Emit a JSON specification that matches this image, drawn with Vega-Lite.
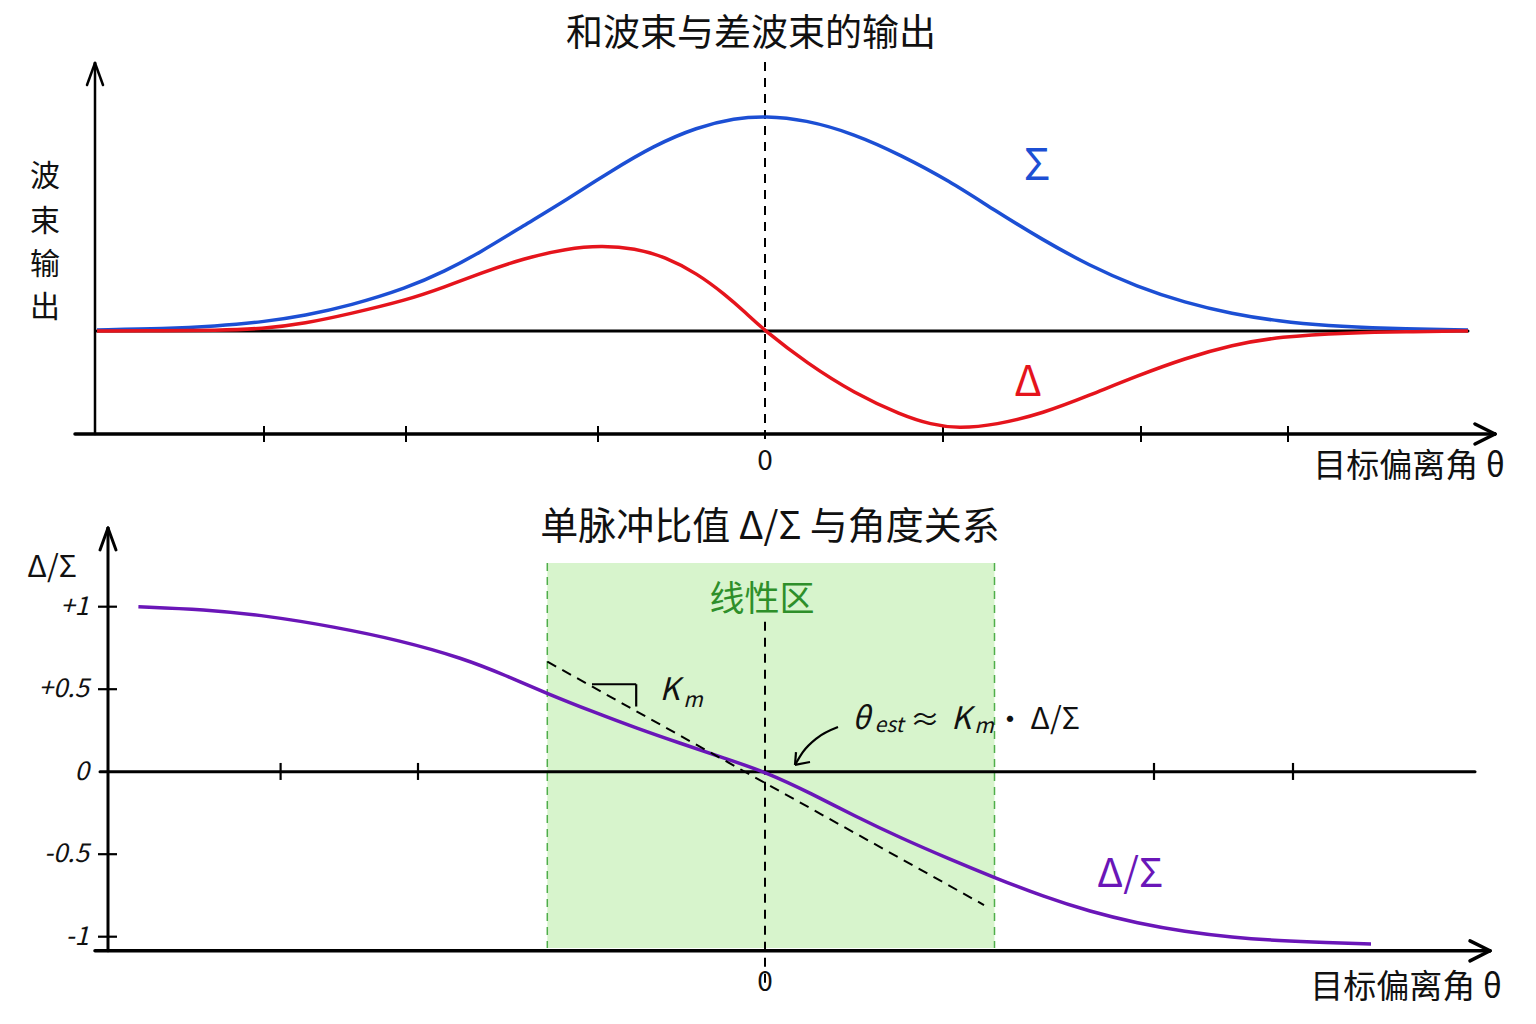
{
  "$schema": "https://vega.github.io/schema/vega-lite/v6.json",
  "padding": 0,
  "spacing": 0,
  "background": "white",
  "config": {"view": {"stroke": null}, "text": {"font": "Noto Sans CJK SC"}},
  "datasets": {
    "sum": [
      {"x": -3.34, "y": 0.005}, {"x": -3.0, "y": 0.01}, {"x": -2.75, "y": 0.022}, {"x": -2.51, "y": 0.042},
      {"x": -2.3, "y": 0.072}, {"x": -2.075, "y": 0.118}, {"x": -1.79, "y": 0.2}, {"x": -1.6, "y": 0.278},
      {"x": -1.425, "y": 0.365}, {"x": -1.207, "y": 0.49}, {"x": -0.99, "y": 0.612}, {"x": -0.775, "y": 0.741},
      {"x": -0.556, "y": 0.862}, {"x": -0.34, "y": 0.948}, {"x": -0.15, "y": 0.99}, {"x": 0, "y": 1.0},
      {"x": 0.2, "y": 0.983}, {"x": 0.447, "y": 0.917}, {"x": 0.68, "y": 0.818}, {"x": 0.919, "y": 0.7},
      {"x": 1.15, "y": 0.56}, {"x": 1.39, "y": 0.423}, {"x": 1.62, "y": 0.305}, {"x": 1.86, "y": 0.206},
      {"x": 2.1, "y": 0.132}, {"x": 2.335, "y": 0.08}, {"x": 2.57, "y": 0.045}, {"x": 2.81, "y": 0.024},
      {"x": 3.1, "y": 0.012}, {"x": 3.515, "y": 0.005}
    ],
    "diff": [
      {"x": -3.34, "y": 0.0}, {"x": -3.0, "y": 0.001}, {"x": -2.75, "y": 0.003}, {"x": -2.51, "y": 0.01},
      {"x": -2.3, "y": 0.035}, {"x": -2.075, "y": 0.08}, {"x": -1.79, "y": 0.144}, {"x": -1.6, "y": 0.205},
      {"x": -1.425, "y": 0.268}, {"x": -1.207, "y": 0.338}, {"x": -0.99, "y": 0.383}, {"x": -0.82, "y": 0.397},
      {"x": -0.65, "y": 0.385}, {"x": -0.5, "y": 0.345}, {"x": -0.34, "y": 0.268}, {"x": -0.2, "y": 0.17},
      {"x": -0.1, "y": 0.088}, {"x": 0, "y": 0.0}, {"x": 0.21, "y": -0.15}, {"x": 0.447, "y": -0.29},
      {"x": 0.683, "y": -0.391}, {"x": 0.83, "y": -0.435}, {"x": 0.965, "y": -0.453}, {"x": 1.155, "y": -0.437},
      {"x": 1.39, "y": -0.383}, {"x": 1.625, "y": -0.298}, {"x": 1.86, "y": -0.209}, {"x": 2.1, "y": -0.127},
      {"x": 2.335, "y": -0.065}, {"x": 2.57, "y": -0.026}, {"x": 2.925, "y": -0.008}, {"x": 3.2, "y": -0.003},
      {"x": 3.515, "y": 0.0}
    ],
    "ratio": [
      {"x": -3.133, "y": 1.0}, {"x": -2.808, "y": 0.984}, {"x": -2.483, "y": 0.944}, {"x": -2.158, "y": 0.879},
      {"x": -1.832, "y": 0.798}, {"x": -1.507, "y": 0.687}, {"x": -1.29, "y": 0.58}, {"x": -1.088, "y": 0.473},
      {"x": -0.857, "y": 0.362}, {"x": -0.64, "y": 0.263}, {"x": -0.423, "y": 0.172}, {"x": -0.206, "y": 0.083},
      {"x": 0, "y": 0.0}, {"x": 0.236, "y": -0.135}, {"x": 0.447, "y": -0.268}, {"x": 0.683, "y": -0.404},
      {"x": 0.919, "y": -0.528}, {"x": 1.155, "y": -0.646}, {"x": 1.39, "y": -0.756}, {"x": 1.625, "y": -0.848},
      {"x": 1.863, "y": -0.919}, {"x": 2.1, "y": -0.97}, {"x": 2.335, "y": -1.004}, {"x": 2.57, "y": -1.024},
      {"x": 2.805, "y": -1.036}, {"x": 3.03, "y": -1.044}
    ]
  },
  "vconcat": [
    {
      "width": 1536,
      "height": 490,
      "encoding": {
        "x": {"field": "x", "type": "quantitative", "axis": null, "scale": {"domain": [-3.825, 3.855], "nice": false, "zero": false}},
        "y": {"field": "y", "type": "quantitative", "axis": null, "scale": {"domain": [-0.7395, 1.5395], "nice": false, "zero": false}}
      },
      "layer": [
        {
          "data": {"values": [
            {"x": -3.35, "y": 1.2465, "x2": -3.35, "y2": -0.479},
            {"x": -3.39, "y": 1.144, "x2": -3.35, "y2": 1.2465},
            {"x": -3.31, "y": 1.144, "x2": -3.35, "y2": 1.2465}
          ]},
          "mark": {"type": "rule", "color": "black", "strokeWidth": 2.5, "strokeCap": "round"},
          "encoding": {"x2": {"field": "x2"}, "y2": {"field": "y2"}}
        },
        {
          "data": {"values": [
            {"x": -3.34, "y": 0, "x2": 3.515, "y2": 0}
          ]},
          "mark": {"type": "rule", "color": "black", "strokeWidth": 3, "strokeCap": "round"},
          "encoding": {"x2": {"field": "x2"}, "y2": {"field": "y2"}}
        },
        {
          "data": {"values": [
            {"x": -3.45, "y": -0.479, "x2": 3.65, "y2": -0.479},
            {"x": 3.55, "y": -0.4326, "x2": 3.65, "y2": -0.479},
            {"x": 3.55, "y": -0.5256, "x2": 3.65, "y2": -0.479}
          ]},
          "mark": {"type": "rule", "color": "black", "strokeWidth": 3.5, "strokeCap": "round"},
          "encoding": {"x2": {"field": "x2"}, "y2": {"field": "y2"}}
        },
        {
          "data": {"values": [
            {"x": -2.505, "y": -0.442, "x2": -2.505, "y2": -0.516},
            {"x": -1.795, "y": -0.442, "x2": -1.795, "y2": -0.516},
            {"x": -0.835, "y": -0.442, "x2": -0.835, "y2": -0.516},
            {"x": 0.89, "y": -0.442, "x2": 0.89, "y2": -0.516},
            {"x": 1.88, "y": -0.442, "x2": 1.88, "y2": -0.516},
            {"x": 2.615, "y": -0.442, "x2": 2.615, "y2": -0.516}
          ]},
          "mark": {"type": "rule", "color": "black", "strokeWidth": 2},
          "encoding": {"x2": {"field": "x2"}, "y2": {"field": "y2"}}
        },
        {
          "data": {"values": [{"x": 0, "y": 1.251, "x2": 0, "y2": -0.516}]},
          "mark": {"type": "rule", "color": "black", "strokeWidth": 2, "strokeDash": [9, 7]},
          "encoding": {"x2": {"field": "x2"}, "y2": {"field": "y2"}}
        },
        {
          "data": {"name": "sum"},
          "mark": {"type": "line", "color": "#1c4fd4", "strokeWidth": 3.5, "interpolate": "basis"}
        },
        {
          "data": {"name": "diff"},
          "mark": {"type": "line", "color": "#e5141c", "strokeWidth": 3.5, "interpolate": "basis"}
        },
        {
          "data": {"values": [{"x": -0.07, "y": 1.377, "t": "和波束与差波束的输出"}]},
          "mark": {"type": "text", "fontSize": 37, "color": "#111", "align": "center", "baseline": "middle"},
          "encoding": {"text": {"field": "t"}}
        },
        {
          "data": {"values": [
            {"x": -3.6, "y": 0.716, "t": "波"},
            {"x": -3.6, "y": 0.507, "t": "束"},
            {"x": -3.6, "y": 0.307, "t": "输"},
            {"x": -3.6, "y": 0.107, "t": "出"}
          ]},
          "mark": {"type": "text", "fontSize": 30, "color": "#111", "align": "center", "baseline": "middle"},
          "encoding": {"text": {"field": "t"}}
        },
        {
          "data": {"values": [{"x": 0, "y": -0.609, "t": "0"}]},
          "mark": {"type": "text", "fontSize": 28, "color": "#111", "align": "center", "baseline": "middle"},
          "encoding": {"text": {"field": "t"}}
        },
        {
          "data": {"values": [{"x": 3.7, "y": -0.633, "t": "目标偏离角 θ"}]},
          "mark": {"type": "text", "fontSize": 33, "color": "#111", "align": "right", "baseline": "middle"},
          "encoding": {"text": {"field": "t"}}
        },
        {
          "data": {"values": [{"x": 1.36, "y": 0.763, "t": "Σ"}]},
          "mark": {"type": "text", "fontSize": 44, "color": "#1c4fd4", "align": "center", "baseline": "middle"},
          "encoding": {"text": {"field": "t"}}
        },
        {
          "data": {"values": [{"x": 1.315, "y": -0.242, "t": "Δ"}]},
          "mark": {"type": "text", "fontSize": 42, "color": "#e5141c", "align": "center", "baseline": "middle"},
          "encoding": {"text": {"field": "t"}}
        }
      ]
    },
    {
      "width": 1536,
      "height": 534,
      "encoding": {
        "x": {"field": "x", "type": "quantitative", "axis": null, "scale": {"domain": [-3.825, 3.855], "nice": false, "zero": false}},
        "y": {"field": "y", "type": "quantitative", "axis": null, "scale": {"domain": [-1.52909, 1.70727], "nice": false, "zero": false}}
      },
      "layer": [
        {
          "data": {"values": [{"x": -1.0885, "x2": 1.1475, "y": 1.265, "y2": -1.069}]},
          "mark": {"type": "rect", "color": "#d3f3c6", "opacity": 0.9},
          "encoding": {"x2": {"field": "x2"}, "y2": {"field": "y2"}}
        },
        {
          "data": {"values": [
            {"x": -1.0885, "y": 1.265, "x2": -1.0885, "y2": -1.069},
            {"x": 1.1475, "y": 1.265, "x2": 1.1475, "y2": -1.069}
          ]},
          "mark": {"type": "rule", "color": "#4fae4a", "strokeWidth": 1.5, "strokeDash": [8, 6]},
          "encoding": {"x2": {"field": "x2"}, "y2": {"field": "y2"}}
        },
        {
          "data": {"values": [{"x": 0, "y": 0.909, "x2": 0, "y2": -1.293}]},
          "mark": {"type": "rule", "color": "black", "strokeWidth": 2, "strokeDash": [9, 7]},
          "encoding": {"x2": {"field": "x2"}, "y2": {"field": "y2"}}
        },
        {
          "data": {"values": [
            {"x": -3.285, "y": 1.477, "x2": -3.285, "y2": -1.085},
            {"x": -3.325, "y": 1.344, "x2": -3.285, "y2": 1.477},
            {"x": -3.245, "y": 1.344, "x2": -3.285, "y2": 1.477},
            {"x": -3.325, "y": 0, "x2": 3.55, "y2": 0}
          ]},
          "mark": {"type": "rule", "color": "black", "strokeWidth": 3, "strokeCap": "round"},
          "encoding": {"x2": {"field": "x2"}, "y2": {"field": "y2"}}
        },
        {
          "data": {"values": [
            {"x": -3.35, "y": -1.085, "x2": 3.625, "y2": -1.085},
            {"x": 3.525, "y": -1.0255, "x2": 3.625, "y2": -1.085},
            {"x": 3.525, "y": -1.1467, "x2": 3.625, "y2": -1.085}
          ]},
          "mark": {"type": "rule", "color": "black", "strokeWidth": 3.5, "strokeCap": "round"},
          "encoding": {"x2": {"field": "x2"}, "y2": {"field": "y2"}}
        },
        {
          "data": {"values": [
            {"x": -3.335, "y": 1, "x2": -3.24, "y2": 1},
            {"x": -3.335, "y": 0.5, "x2": -3.24, "y2": 0.5},
            {"x": -3.335, "y": -0.5, "x2": -3.24, "y2": -0.5},
            {"x": -3.335, "y": -1, "x2": -3.24, "y2": -1},
            {"x": -2.422, "y": 0.053, "x2": -2.422, "y2": -0.05},
            {"x": -1.735, "y": 0.053, "x2": -1.735, "y2": -0.05},
            {"x": 1.945, "y": 0.053, "x2": 1.945, "y2": -0.05},
            {"x": 2.64, "y": 0.053, "x2": 2.64, "y2": -0.05},
            {"x": -0.865, "y": 0.53, "x2": -0.644, "y2": 0.53},
            {"x": -0.644, "y": 0.53, "x2": -0.644, "y2": 0.395},
            {"x": 0.155, "y": 0.119, "x2": 0.15, "y2": 0.041},
            {"x": 0.225, "y": 0.059, "x2": 0.15, "y2": 0.041}
          ]},
          "mark": {"type": "rule", "color": "black", "strokeWidth": 2.2},
          "encoding": {"x2": {"field": "x2"}, "y2": {"field": "y2"}}
        },
        {
          "data": {"values": [{"x": 0.365, "y": 0.271}, {"x": 0.26, "y": 0.204}, {"x": 0.19, "y": 0.12}, {"x": 0.15, "y": 0.041}]},
          "mark": {"type": "line", "color": "black", "strokeWidth": 2.2, "interpolate": "monotone"}
        },
        {
          "data": {"name": "ratio"},
          "mark": {"type": "line", "color": "#6a16b8", "strokeWidth": 3.5, "interpolate": "basis"}
        },
        {
          "data": {"values": [{"x": -1.088, "y": 0.667, "x2": 1.095, "y2": -0.808}]},
          "mark": {"type": "rule", "color": "black", "strokeWidth": 2, "strokeDash": [10, 7]},
          "encoding": {"x2": {"field": "x2"}, "y2": {"field": "y2"}}
        },
        {
          "data": {"values": [{"x": 0.025, "y": 1.477, "t": "单脉冲比值 Δ/Σ 与角度关系"}]},
          "mark": {"type": "text", "fontSize": 38, "color": "#111", "align": "center", "baseline": "middle"},
          "encoding": {"text": {"field": "t"}}
        },
        {
          "data": {"values": [{"x": -3.565, "y": 1.235, "t": "Δ/Σ"}]},
          "mark": {"type": "text", "fontSize": 30, "color": "#111", "align": "center", "baseline": "middle"},
          "encoding": {"text": {"field": "t"}}
        },
        {
          "data": {"values": [
            {"x": -3.38, "y": 1, "t": "+1"},
            {"x": -3.38, "y": 0.5, "t": "+0.5"},
            {"x": -3.38, "y": 0, "t": "0"},
            {"x": -3.38, "y": -0.5, "t": "-0.5"},
            {"x": -3.38, "y": -1, "t": "-1"}
          ]},
          "mark": {"type": "text", "fontSize": 26, "fontStyle": "italic", "color": "#111", "align": "right", "baseline": "middle"},
          "encoding": {"text": {"field": "t"}}
        },
        {
          "data": {"values": [{"x": -0.015, "y": 1.04, "t": "线性区"}]},
          "mark": {"type": "text", "fontSize": 35, "color": "#2e8f2a", "align": "center", "baseline": "middle"},
          "encoding": {"text": {"field": "t"}}
        },
        {
          "data": {"values": [
            {"x": -0.4775, "y": 0.489, "t": "K"},
            {"x": 0.48, "y": 0.313, "t": "θ"},
            {"x": 0.98, "y": 0.313, "t": "K"}
          ]},
          "mark": {"type": "text", "fontSize": 31, "fontStyle": "italic", "color": "#111", "align": "center", "baseline": "middle"},
          "encoding": {"text": {"field": "t"}}
        },
        {
          "data": {"values": [
            {"x": -0.36, "y": 0.431, "t": "m"},
            {"x": 0.62, "y": 0.277, "t": "est"},
            {"x": 1.095, "y": 0.271, "t": "m"}
          ]},
          "mark": {"type": "text", "fontSize": 21, "fontStyle": "italic", "color": "#111", "align": "center", "baseline": "middle"},
          "encoding": {"text": {"field": "t"}}
        },
        {
          "data": {"values": [
            {"x": 0.8, "y": 0.307, "t": "≈"},
            {"x": 1.225, "y": 0.307, "t": "·"},
            {"x": 1.45, "y": 0.313, "t": "Δ/Σ"}
          ]},
          "mark": {"type": "text", "fontSize": 30, "color": "#111", "align": "center", "baseline": "middle"},
          "encoding": {"text": {"field": "t"}}
        },
        {
          "data": {"values": [{"x": 1.825, "y": -0.626, "t": "Δ/Σ"}]},
          "mark": {"type": "text", "fontSize": 40, "color": "#6a16b8", "align": "center", "baseline": "middle"},
          "encoding": {"text": {"field": "t"}}
        },
        {
          "data": {"values": [{"x": 0, "y": -1.28, "t": "0"}]},
          "mark": {"type": "text", "fontSize": 28, "color": "#111", "align": "center", "baseline": "middle"},
          "encoding": {"text": {"field": "t"}}
        },
        {
          "data": {"values": [{"x": 3.685, "y": -1.312, "t": "目标偏离角 θ"}]},
          "mark": {"type": "text", "fontSize": 33, "color": "#111", "align": "right", "baseline": "middle"},
          "encoding": {"text": {"field": "t"}}
        }
      ]
    }
  ]
}
